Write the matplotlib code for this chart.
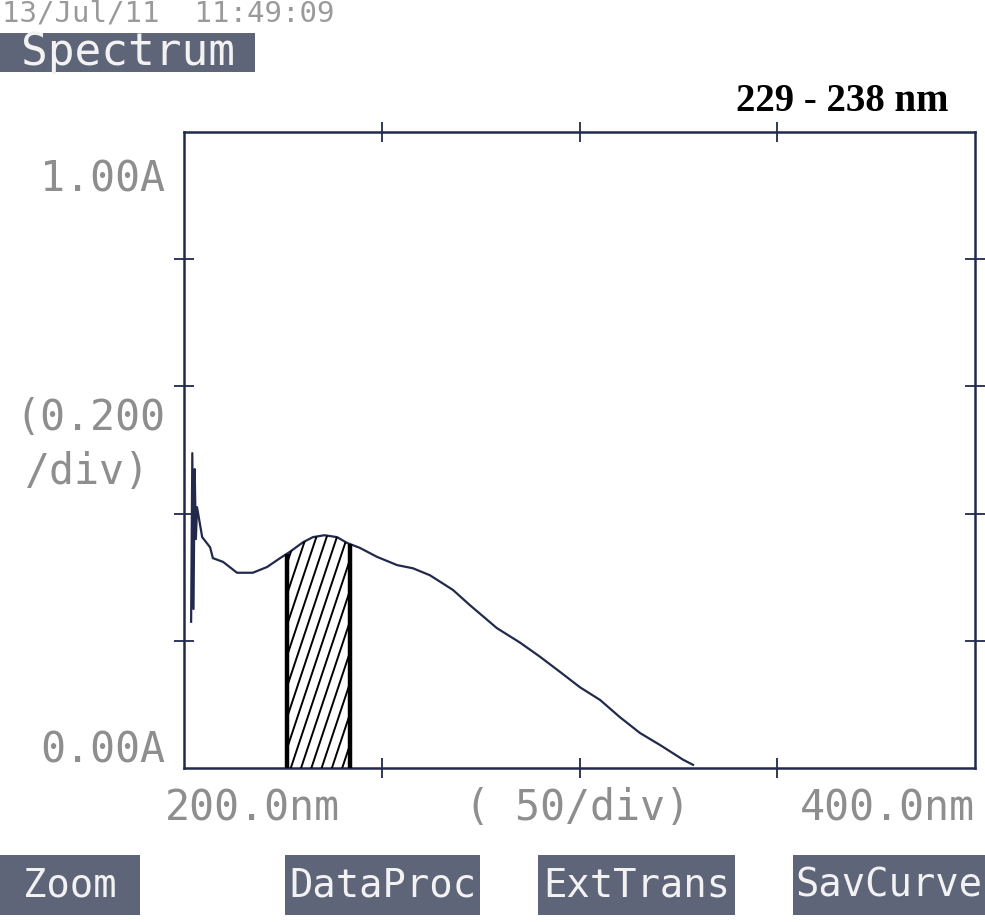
import numpy as np
import matplotlib
matplotlib.use("Agg")
import matplotlib.pyplot as plt

# spectrum (nm, absorbance)
wavelength = [201.8, 202.1, 202.4, 202.7, 203.0, 203.3, 204.6, 206.6, 207.3, 209.9,
              213.4, 217.4, 221.0, 224.3, 226.8, 230.1, 232.6, 235.5, 238.7, 241.2,
              244.5, 248.8, 253.9, 257.9, 262.2, 268.0, 272.3, 279.1, 285.0, 290.0,
              295.1, 300.1, 305.2, 310.2, 315.3, 320.4, 326.2, 328.7]
absorbance = [0.23, 0.495, 0.25, 0.47, 0.36, 0.41, 0.363, 0.347, 0.330, 0.324,
              0.307, 0.307, 0.316, 0.330, 0.340, 0.355, 0.363, 0.366, 0.363, 0.354,
              0.346, 0.332, 0.319, 0.314, 0.303, 0.280, 0.256, 0.220, 0.197, 0.175,
              0.151, 0.127, 0.107, 0.080, 0.055, 0.036, 0.013, 0.005]

band = [226.0, 242.0]          # hatched window as drawn
band_label = "229 - 238 nm"
x_range = [200, 400]
y_range = [0.0, 1.0]
x_ticks = [250, 300, 350]
y_ticks = [0.2, 0.4, 0.6, 0.8]
stamp = "13/Jul/11  11:49:09"
buttons = ["Zoom", "DataProc", "ExtTrans", "SavCurve"]

W, H = 985, 922
ink = "#222a4c"
grey = "#8e8e8e"
box = "#5f6579"

fig = plt.figure(figsize=(W / 100, H / 100), dpi=100)
fig.patch.set_facecolor("white")


def fx(x):
    return x / W


def fy(y):
    return 1 - y / H


ax = fig.add_axes([fx(184), fy(768), (975 - 184) / W, (768 - 132) / H])
ax.set_xlim(x_range)
ax.set_ylim(y_range)
for s in ax.spines.values():
    s.set_color(ink)
    s.set_linewidth(1.8)
ax.set_xticks(x_ticks)
ax.set_yticks(y_ticks)
ax.tick_params(direction="inout", length=14, width=1.3, color=ink,
               top=True, right=True, labelbottom=False, labelleft=False)

wl = np.array(wavelength)
ab = np.array(absorbance)
ax.plot(wl, ab, color=ink, lw=1.6, zorder=3)

# hatched window under the curve
lo, hi = band
xs = np.concatenate([[lo], wl[(wl > lo) & (wl < hi)], [hi]])
ys = np.interp(xs, wl, ab)
poly = ax.fill_between(xs, 0, ys, facecolor="white", edgecolor="none", zorder=2)
ax.vlines([lo, hi], 0, np.interp([lo, hi], wl, ab), color="black", lw=3.2, zorder=4)
slope = 3.0 * 3.955 / 636   # A per nm for the hatch line angle
for off in np.arange(lo - 25, hi + 2, 2.6):
    ln, = ax.plot([off, off + 0.5 / slope], [0, 0.5], color="black", lw=1.4, zorder=3)
    ln.set_clip_path(poly.get_paths()[0], ax.transData)

mono = "DejaVu Sans Mono"

# header
fig.text(fx(2), fy(22), stamp, family=mono, fontsize=21, color="#9a9a9a", va="baseline")
fig.patches.append(plt.Rectangle((fx(0), fy(72)), 255 / W, 39 / H, transform=fig.transFigure,
                                 facecolor=box, edgecolor="none"))
fig.text(fx(128), fy(53), "Spectrum", family=mono, fontsize=32, color="#f2f2f2",
         ha="center", va="center")
fig.text(fx(842), fy(101), band_label, family="Liberation Serif", fontweight="bold",
         fontsize=28, color="black", ha="center", va="center")

# y labels
fig.text(fx(165), fy(180), "1.00A", family=mono, fontsize=30, color=grey, ha="right", va="center")
fig.text(fx(165), fy(418), "(0.200", family=mono, fontsize=30, color=grey, ha="right", va="center")
fig.text(fx(150), fy(472), "/div)", family=mono, fontsize=30, color=grey, ha="right", va="center")
fig.text(fx(165), fy(750), "0.00A", family=mono, fontsize=30, color=grey, ha="right", va="center")

# x labels
fig.text(fx(165), fy(808), "200.0nm", family=mono, fontsize=30, color=grey, ha="left", va="center")
fig.text(fx(465), fy(808), "( 50/div)", family=mono, fontsize=30, color=grey, ha="left", va="center")
fig.text(fx(975), fy(808), "400.0nm", family=mono, fontsize=30, color=grey, ha="right", va="center")

# soft-key boxes
spans = [(0, 140), (285, 480), (538, 735), (793, 985)]
for (a, b), name in zip(spans, buttons):
    fig.patches.append(plt.Rectangle((fx(a), fy(915)), (b - a) / W, 60 / H,
                                     transform=fig.transFigure, facecolor=box, edgecolor="none"))
    fig.text(fx((a + b) / 2), fy(885), name, family=mono, fontsize=28, color="#f2f2f2",
             ha="center", va="center")

fig.savefig("out.png", dpi=100, facecolor="white")
